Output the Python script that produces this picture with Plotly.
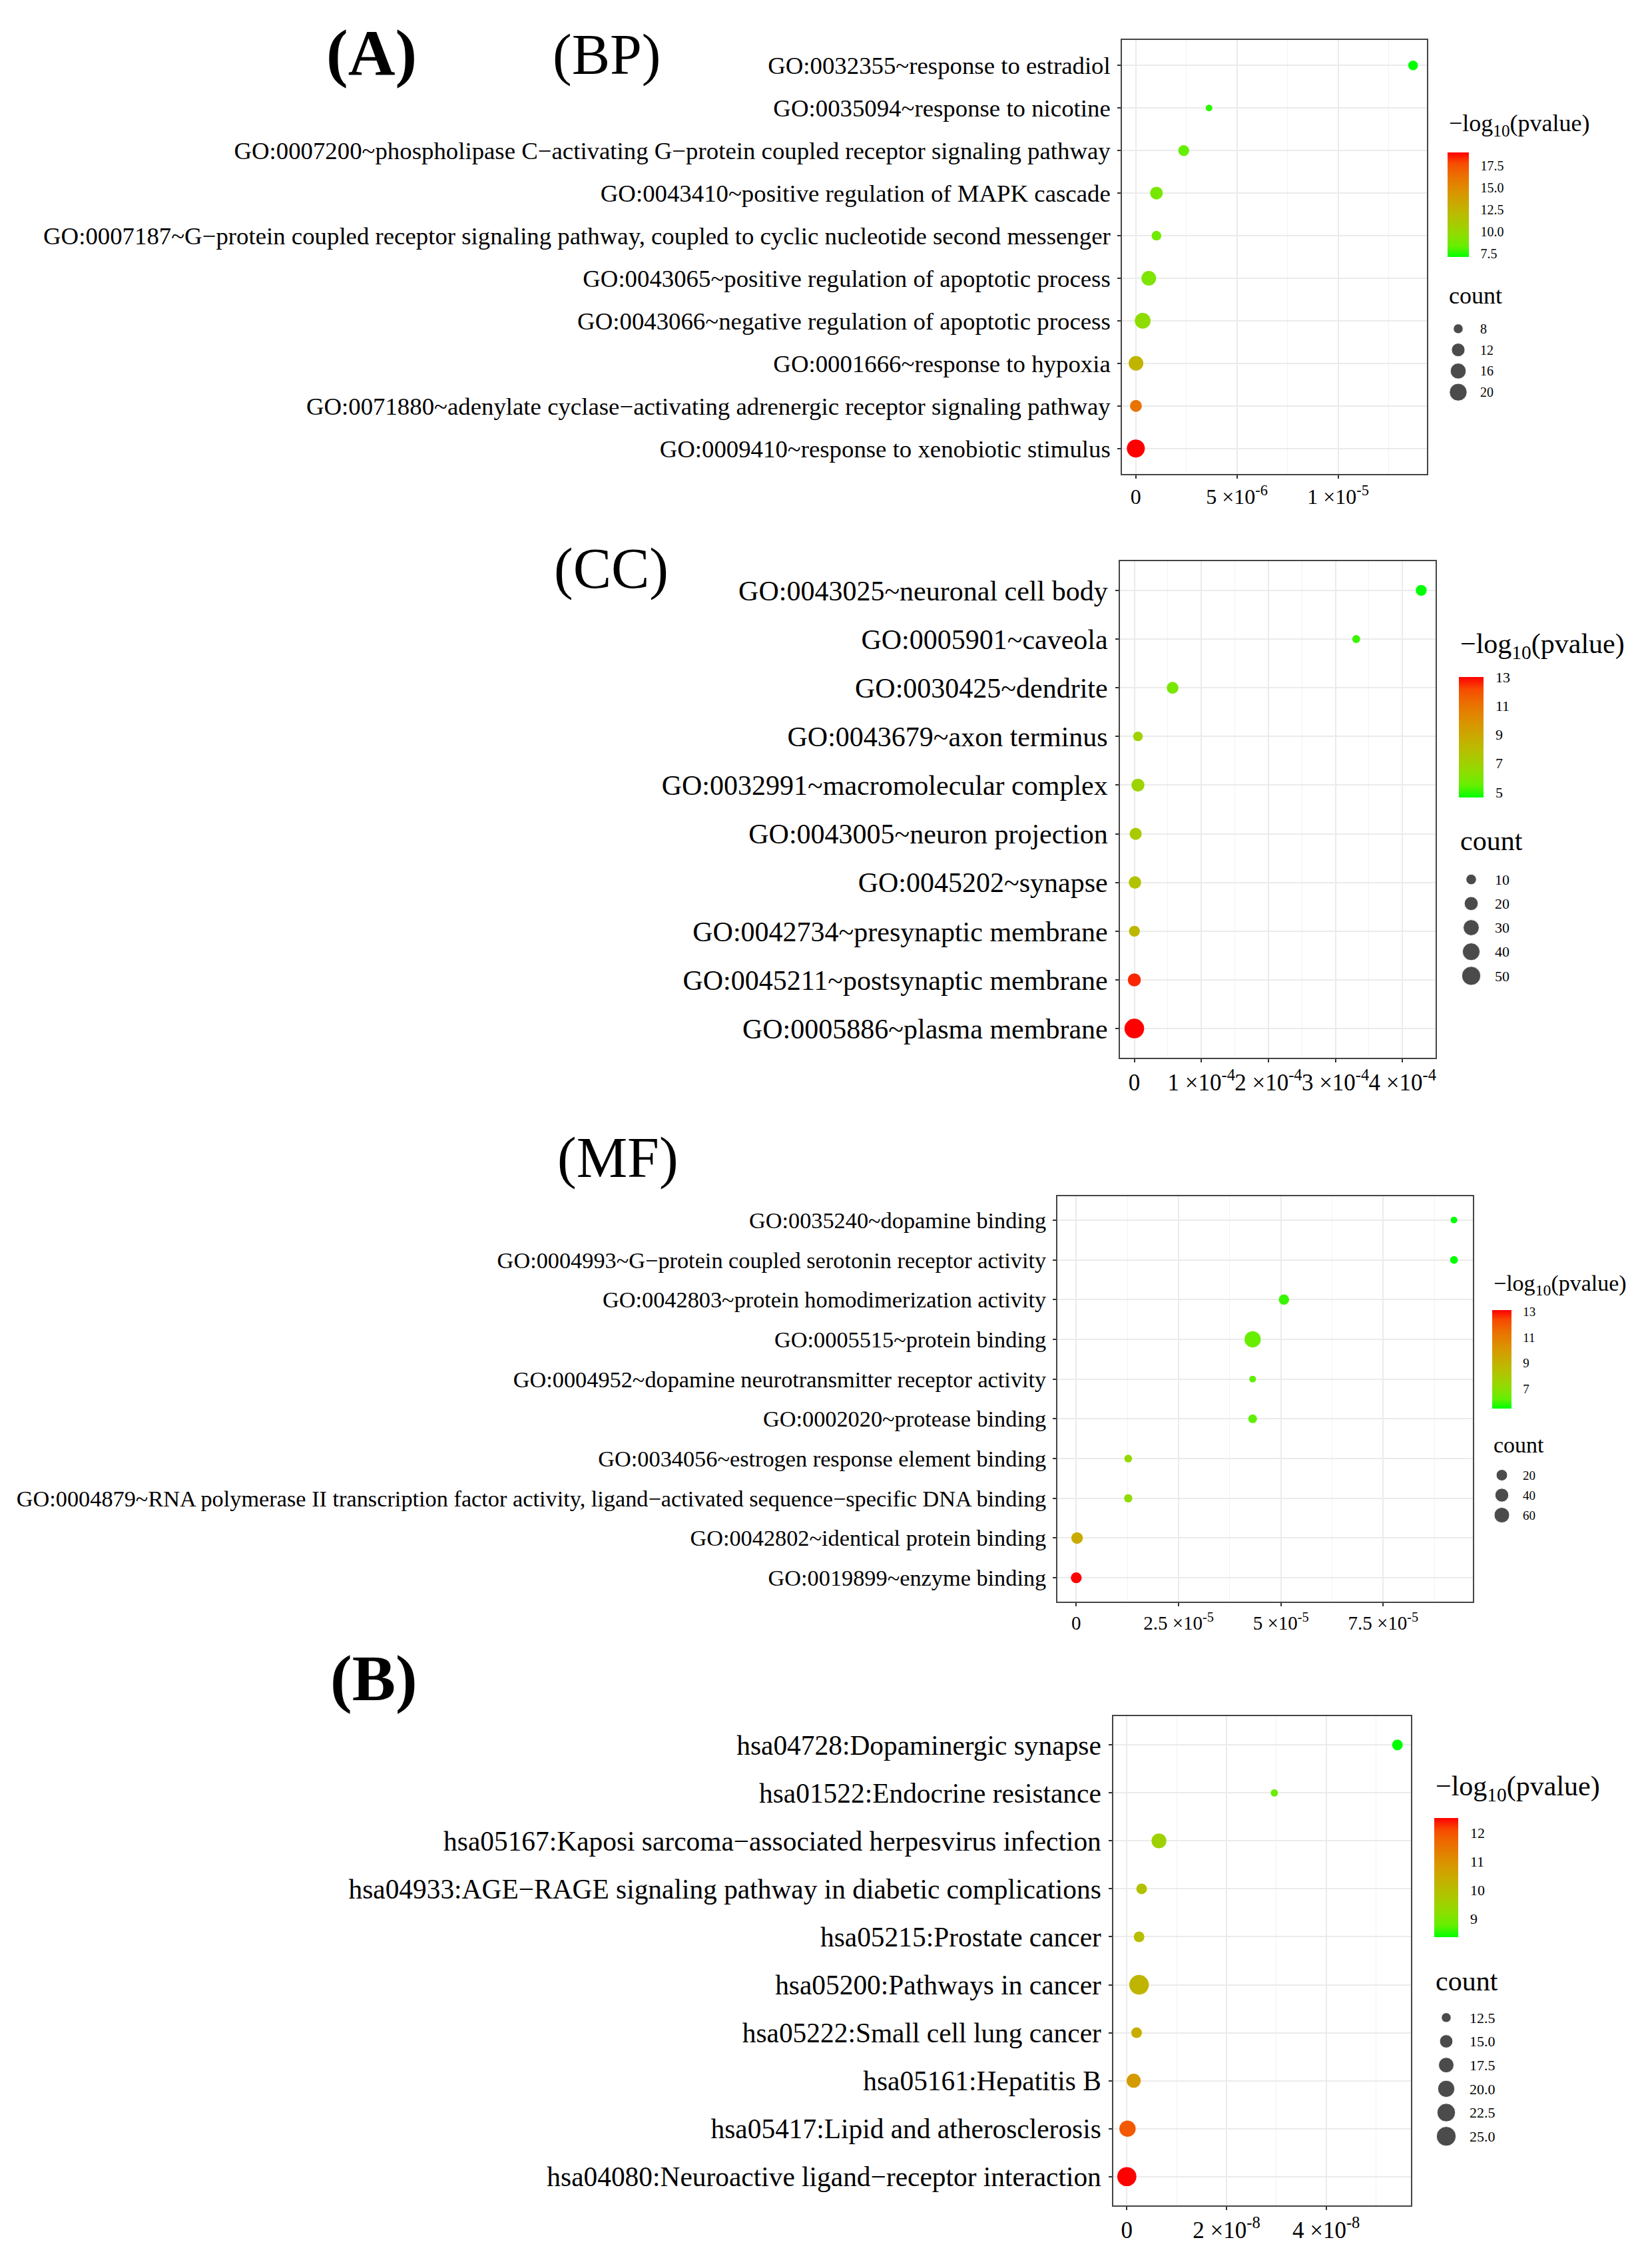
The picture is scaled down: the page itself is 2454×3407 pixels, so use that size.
import numpy as np
import plotly.graph_objects as go

W, H = 2454, 3407
FONT = "Liberation Serif, Times New Roman, serif"

# ---- (BP) biological process ----
bp_terms = [
    "GO:0032355~response to estradiol",
    "GO:0035094~response to nicotine",
    "GO:0007200~phospholipase C−activating G−protein coupled receptor signaling pathway",
    "GO:0043410~positive regulation of MAPK cascade",
    "GO:0007187~G−protein coupled receptor signaling pathway, coupled to cyclic nucleotide second messenger",
    "GO:0043065~positive regulation of apoptotic process",
    "GO:0043066~negative regulation of apoptotic process",
    "GO:0001666~response to hypoxia",
    "GO:0071880~adenylate cyclase−activating adrenergic receptor signaling pathway",
    "GO:0009410~response to xenobiotic stimulus",
]
bp_x = [1.371e-05, 3.62e-06, 2.37e-06, 1.02e-06, 1.02e-06, 6.4e-07, 3.4e-07, 1.0e-08, 5.0e-09, 1.0e-10]
bp_logp = [7.1, 7.6, 8.3, 8.9, 8.6, 9.1, 9.7, 12.4, 16.2, 19.04]
bp_count = [8, 7, 9, 11, 8, 14, 16, 14, 10, 21]
bp_xticks = [0, 5e-06, 1e-05]
bp_xlabels = ["0", "5 ×10<sup>-6</sup>", "1 ×10<sup>-5</sup>"]
bp_cticks = [7.5, 10, 12.5, 15, 17.5]
bp_clabels = ["7.5", "10.0", "12.5", "15.0", "17.5"]
bp_sbreaks = [8, 12, 16, 20]
bp_slabels = ["8", "12", "16", "20"]

# ---- (CC) cellular component ----
cc_terms = [
    "GO:0043025~neuronal cell body",
    "GO:0005901~caveola",
    "GO:0030425~dendrite",
    "GO:0043679~axon terminus",
    "GO:0032991~macromolecular complex",
    "GO:0043005~neuron projection",
    "GO:0045202~synapse",
    "GO:0042734~presynaptic membrane",
    "GO:0045211~postsynaptic membrane",
    "GO:0005886~plasma membrane",
]
cc_x = [4.28e-04, 3.31e-04, 5.71e-05, 5.4e-06, 5.4e-06, 2.0e-06, 1.0e-06, 2.0e-07, 5.0e-08, 1.0e-09]
cc_logp = [4.62, 5.1, 5.9, 7.0, 6.9, 7.3, 7.7, 8.2, 12.6, 13.02]
cc_count = [11, 8, 13, 9, 17, 14, 15, 11, 17, 56]
cc_xticks = [0, 1e-04, 2e-04, 3e-04, 4e-04]
cc_xlabels = ["0", "1 ×10<sup>-4</sup>", "2 ×10<sup>-4</sup>", "3 ×10<sup>-4</sup>", "4 ×10<sup>-4</sup>"]
cc_cticks = [5, 7, 9, 11, 13]
cc_clabels = ["5", "7", "9", "11", "13"]
cc_sbreaks = [10, 20, 30, 40, 50]
cc_slabels = ["10", "20", "30", "40", "50"]

# ---- (MF) molecular function ----
mf_terms = [
    "GO:0035240~dopamine binding",
    "GO:0004993~G−protein coupled serotonin receptor activity",
    "GO:0042803~protein homodimerization activity",
    "GO:0005515~protein binding",
    "GO:0004952~dopamine neurotransmitter receptor activity",
    "GO:0002020~protease binding",
    "GO:0034056~estrogen response element binding",
    "GO:0004879~RNA polymerase II transcription factor activity, ligand−activated sequence−specific DNA binding",
    "GO:0042802~identical protein binding",
    "GO:0019899~enzyme binding",
]
mf_x = [9.23e-05, 9.23e-05, 5.075e-05, 4.31e-05, 4.31e-05, 4.31e-05, 1.27e-05, 1.27e-05, 2.0e-07, 1.0e-09]
mf_logp = [5.48, 5.5, 5.9, 6.3, 6.2, 6.2, 7.3, 7.2, 9.3, 13.11]
mf_count = [4, 5, 14, 72, 4, 7, 5, 6, 22, 17]
mf_xticks = [0, 2.5e-05, 5e-05, 7.5e-05]
mf_xlabels = ["0", "2.5 ×10<sup>-5</sup>", "5 ×10<sup>-5</sup>", "7.5 ×10<sup>-5</sup>"]
mf_cticks = [7, 9, 11, 13]
mf_clabels = ["7", "9", "11", "13"]
mf_sbreaks = [20, 40, 60]
mf_slabels = ["20", "40", "60"]

# ---- (B) KEGG pathways ----
kg_terms = [
    "hsa04728:Dopaminergic synapse",
    "hsa01522:Endocrine resistance",
    "hsa05167:Kaposi sarcoma−associated herpesvirus infection",
    "hsa04933:AGE−RAGE signaling pathway in diabetic complications",
    "hsa05215:Prostate cancer",
    "hsa05200:Pathways in cancer",
    "hsa05222:Small cell lung cancer",
    "hsa05161:Hepatitis B",
    "hsa05417:Lipid and atherosclerosis",
    "hsa04080:Neuroactive ligand−receptor interaction",
]
kg_x = [5.43e-08, 2.96e-08, 6.45e-09, 2.97e-09, 2.46e-09, 2.46e-09, 1.96e-09, 1.38e-09, 1.4e-10, 1.0e-12]
kg_logp = [8.36, 8.8, 9.5, 9.9, 10.0, 10.2, 10.4, 10.8, 11.9, 12.51]
kg_count = [13, 12, 17, 13, 13, 25, 13, 16, 19, 24]
kg_xticks = [0, 2e-08, 4e-08]
kg_xlabels = ["0", "2 ×10<sup>-8</sup>", "4 ×10<sup>-8</sup>"]
kg_cticks = [9, 10, 11, 12]
kg_clabels = ["9", "10", "11", "12"]
kg_sbreaks = [12.5, 15, 17.5, 20, 22.5, 25]
kg_slabels = ["12.5", "15.0", "17.5", "20.0", "22.5", "25.0"]


# green -> red gradient interpolated in Lab space (like ggplot)
def to_lab(rgb):
    c = np.array(rgb) / 255.0
    c = np.where(c > 0.04045, ((c + 0.055) / 1.055) ** 2.4, c / 12.92)
    m = np.array([[0.4124, 0.3576, 0.1805], [0.2126, 0.7152, 0.0722], [0.0193, 0.1192, 0.9505]])
    xyz = m @ c / np.array([0.95047, 1.0, 1.08883])
    f = np.where(xyz > 0.008856, np.cbrt(xyz), 7.787 * xyz + 16 / 116)
    return np.array([116 * f[1] - 16, 500 * (f[0] - f[1]), 200 * (f[1] - f[2])])


def to_hex(lab):
    fy = (lab[0] + 16) / 116
    f = np.array([fy + lab[1] / 500, fy, fy - lab[2] / 200])
    xyz = np.where(f ** 3 > 0.008856, f ** 3, (f - 16 / 116) / 7.787) * np.array([0.95047, 1.0, 1.08883])
    m = np.array([[3.2406, -1.5372, -0.4986], [-0.9689, 1.8758, 0.0415], [0.0557, -0.2040, 1.0570]])
    c = np.clip(m @ xyz, 0, 1)
    c = np.where(c > 0.0031308, 1.055 * c ** (1 / 2.4) - 0.055, 12.92 * c)
    return "#%02x%02x%02x" % tuple(int(round(v * 255)) for v in c)


lo_lab, hi_lab = to_lab((0, 255, 0)), to_lab((255, 0, 0))
CS = [[t, to_hex(lo_lab + (hi_lab - lo_lab) * t)] for t in np.linspace(0, 1, 11)]


def dot_size(vals, cmin, cmax, dmin, dmax):
    v = np.clip((np.array(vals, dtype=float) - cmin) / (cmax - cmin), 0, 1)
    return dmin + (dmax - dmin) * np.sqrt(v)


# pixel boxes: plot area, colorbar, legend titles, size key
panels = [
    dict(terms=bp_terms, x=bp_x, c=bp_logp, n=bp_count, xt=bp_xticks, xl=bp_xlabels,
         ct=bp_cticks, cl=bp_clabels, sb=bp_sbreaks, sl=bp_slabels,
         box=(1677, 52, 2135, 704), yfont=36.8, xfont=32, dot=(10, 27),
         bar=(2166, 221, 2198, 378), ttl=179, cnt=436, key=(470, 597), lfont=36, tfont=20),
    dict(terms=cc_terms, x=cc_x, c=cc_logp, n=cc_count, xt=cc_xticks, xl=cc_xlabels,
         ct=cc_cticks, cl=cc_clabels, sb=cc_sbreaks, sl=cc_slabels,
         box=(1674, 835, 2148, 1581), yfont=42, xfont=35, dot=(12, 29.5),
         bar=(2183, 1009, 2220, 1190), ttl=962, cnt=1255, key=(1295, 1476), lfont=42, tfont=22),
    dict(terms=mf_terms, x=mf_x, c=mf_logp, n=mf_count, xt=mf_xticks, xl=mf_xlabels,
         ct=mf_cticks, cl=mf_clabels, sb=mf_sbreaks, sl=mf_slabels,
         box=(1580, 1789, 2204, 2398), yfont=34.3, xfont=29, dot=(10, 24.4),
         bar=(2233, 1960, 2262, 2108), ttl=1922, cnt=2162, key=(2193, 2283), lfont=34, tfont=19),
    dict(terms=kg_terms, x=kg_x, c=kg_logp, n=kg_count, xt=kg_xticks, xl=kg_xlabels,
         ct=kg_cticks, cl=kg_clabels, sb=kg_sbreaks, sl=kg_slabels,
         box=(1664, 2570, 2111, 3305), yfont=41.4, xfont=35, dot=(10.9, 29.4),
         bar=(2146, 2723, 2182, 2902), ttl=2678, cnt=2968, key=(3005, 3219), lfont=42, tfont=22),
]

fig = go.Figure()
layout = {}
annotations = []

for i, p in enumerate(panels):
    s = "" if i == 0 else str(i + 1)
    k = str(i + 5)
    x0, y0, x1, y1 = p["box"]
    cmin, cmax = min(p["n"]), max(p["n"])
    dmin, dmax = p["dot"]

    fig.add_trace(go.Scatter(
        x=p["x"], y=p["terms"], mode="markers",
        marker=dict(size=dot_size(p["n"], cmin, cmax, dmin, dmax), color=p["c"],
                    coloraxis="coloraxis" + s, line=dict(width=0), opacity=1),
        xaxis="x" + s, yaxis="y" + s, showlegend=False, hoverinfo="skip",
    ))

    xmin, xmax = min(p["x"]), max(p["x"])
    span = xmax - xmin
    step = p["xt"][1] - p["xt"][0]
    minor = [t + step / 2 for t in p["xt"]]
    tickstyle = dict(ticks="outside", ticklen=5, tickwidth=2, tickcolor="#333333",
                     showline=True, mirror=True, linecolor="#444444", linewidth=1.8,
                     zeroline=False, automargin=False)
    layout["xaxis" + s] = dict(
        domain=[x0 / W, x1 / W], anchor="y" + s,
        range=[xmin - 0.05 * span, xmax + 0.05 * span],
        tickmode="array", tickvals=p["xt"], ticktext=p["xl"], tickangle=0,
        tickfont=dict(family=FONT, size=p["xfont"], color="black"),
        showgrid=True, gridcolor="#EBEBEB", gridwidth=2,
        minor=dict(tickmode="array", tickvals=minor, showgrid=True,
                   gridcolor="#F2F2F2", gridwidth=1, ticks=""),
        **tickstyle,
    )
    layout["yaxis" + s] = dict(
        domain=[1 - y1 / H, 1 - y0 / H], anchor="x" + s,
        type="category", categoryorder="array", categoryarray=p["terms"][::-1],
        range=[-0.6, len(p["terms"]) - 0.4], ticklabelstandoff=3,
        tickfont=dict(family=FONT, size=p["yfont"], color="black"),
        showgrid=True, gridcolor="#EBEBEB", gridwidth=2,
        **tickstyle,
    )

    bx0, by0, bx1, by1 = p["bar"]
    layout["coloraxis" + s] = dict(
        colorscale=CS, cmin=min(p["c"]), cmax=max(p["c"]),
        colorbar=dict(
            x=bx0 / W, xanchor="left", y=1 - by0 / H, yanchor="top",
            len=by1 - by0, lenmode="pixels", thickness=bx1 - bx0, thicknessmode="pixels",
            xpad=0, ypad=0, outlinewidth=0,
            tickmode="array", tickvals=p["ct"], ticktext=p["cl"],
            ticks="outside", ticklen=14, tickcolor="rgba(0,0,0,0)",
            tickfont=dict(family=FONT, size=p["tfont"], color="black"),
            title=dict(text=""),
        ),
    )

    # size key: black dots on a small categorical axis
    ky0, ky1 = p["key"]
    fig.add_trace(go.Scatter(
        x=[0] * len(p["sb"]), y=p["sl"], mode="markers",
        marker=dict(size=dot_size(p["sb"], cmin, cmax, dmin, dmax), color="black"),
        xaxis="x" + k, yaxis="y" + k, showlegend=False, hoverinfo="skip", cliponaxis=False,
    ))
    layout["xaxis" + k] = dict(domain=[bx0 / W, bx1 / W], anchor="y" + k,
                               range=[-1, 1], visible=False)
    layout["yaxis" + k] = dict(
        domain=[1 - ky1 / H, 1 - ky0 / H], anchor="x" + k, side="right",
        type="category", categoryorder="array", categoryarray=p["sl"][::-1],
        range=[-0.5, len(p["sl"]) - 0.5], showgrid=False, zeroline=False,
        showline=False, ticks="", ticklabelstandoff=16, automargin=False,
        tickfont=dict(family=FONT, size=p["tfont"], color="black"),
    )

    annotations.append(dict(text="−log<sub>10</sub>(pvalue)", x=bx0 / W, y=1 - p["ttl"] / H,
                            xref="paper", yref="paper", xanchor="left", yanchor="middle",
                            showarrow=False, font=dict(family=FONT, size=p["lfont"], color="black")))
    annotations.append(dict(text="count", x=bx0 / W, y=1 - p["cnt"] / H,
                            xref="paper", yref="paper", xanchor="left", yanchor="middle",
                            showarrow=False, font=dict(family=FONT, size=p["lfont"], color="black")))

# panel letters
letters = [("<b>(A)</b>", 550, 71, 98), ("(BP)", 903, 74, 86), ("(CC)", 910, 846, 86),
           ("(MF)", 920, 1731, 86), ("<b>(B)</b>", 553, 2513, 98)]
for txt, lx, ly, fs in letters:
    annotations.append(dict(text=txt, x=lx / W, y=1 - ly / H, xref="paper", yref="paper",
                            xanchor="center", yanchor="middle", showarrow=False,
                            font=dict(family=FONT, size=fs, color="black")))

fig.update_layout(
    template="none",
    width=W, height=H,
    margin=dict(l=0, r=0, t=0, b=0),
    paper_bgcolor="white", plot_bgcolor="white",
    font=dict(family=FONT, color="black"),
    showlegend=False,
    annotations=annotations,
    **layout,
)

fig.write_html("out.html")
